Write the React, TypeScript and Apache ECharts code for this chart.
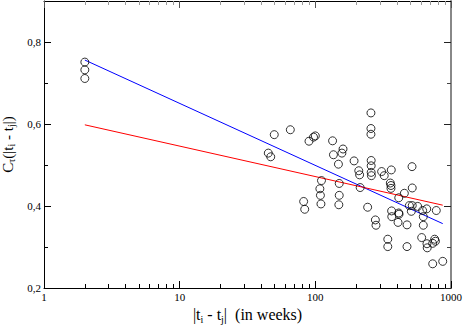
import React, { useEffect, useRef } from "react";
import * as echarts from "echarts";

const weeks = [2, 2, 2, 257, 257, 257, 49.8, 65.4, 97, 100, 89.8, 134, 160, 157, 136, 45, 46.9, 148, 193, 258, 258, 209, 212, 258, 259, 308, 322, 363, 516, 111, 150, 214, 357, 361, 361, 518, 108, 109, 110, 150, 149, 82, 83.5, 243, 412, 453, 493, 518, 568, 510, 365, 366, 412, 414, 407, 474, 277, 280, 618, 662, 779, 625, 625, 608, 665, 668, 733, 758, 768, 342, 342, 474, 733, 869];
const corr = [0.751, 0.732, 0.711, 0.627, 0.589, 0.575, 0.574, 0.586, 0.568, 0.571, 0.558, 0.559, 0.539, 0.529, 0.525, 0.529, 0.52, 0.502, 0.51, 0.511, 0.498, 0.486, 0.476, 0.482, 0.474, 0.484, 0.474, 0.488, 0.496, 0.462, 0.455, 0.445, 0.456, 0.45, 0.443, 0.444, 0.442, 0.426, 0.405, 0.426, 0.403, 0.411, 0.392, 0.397, 0.42, 0.431, 0.401, 0.401, 0.399, 0.387, 0.388, 0.374, 0.383, 0.38, 0.36, 0.354, 0.366, 0.353, 0.389, 0.393, 0.389, 0.374, 0.353, 0.323, 0.308, 0.298, 0.309, 0.319, 0.314, 0.319, 0.301, 0.301, 0.259, 0.265];

const blueFitX = [2, 869];
const blueFitY = [0.756, 0.357];
const redFitX = [2, 869];
const redFitY = [0.598, 0.402];

const xMajorTicks = [1, 10, 100, 1000];
const xMinorTicks = [2, 3, 4, 5, 6, 7, 8, 9, 20, 30, 40, 50, 60, 70, 80, 90, 200, 300, 400, 500, 600, 700, 800, 900];
const yMajorTicks = [0.2, 0.4, 0.6, 0.8];
const yMinorTicks = [0.3, 0.5, 0.7];

const FONT = "'Liberation Serif', 'Times New Roman', serif";

export default function App() {
  const ref = useRef<HTMLDivElement>(null);
  useEffect(() => {
    if (!ref.current) return;
    const chart = echarts.init(ref.current, undefined, { renderer: "svg" });
    const xBase = { type: "log" as const, logBase: 10, min: 1, max: 1000, splitLine: { show: false } };
    const yBase = { type: "value" as const, min: 0.2, max: 0.9, splitLine: { show: false } };
    const richX = {
      a: { fontFamily: FONT, fontSize: 16, color: "#000", lineHeight: 20, verticalAlign: "middle" },
      s: { fontFamily: FONT, fontSize: 10, color: "#000", lineHeight: 10, verticalAlign: "bottom" },
    };
    const richY = {
      a: { fontFamily: FONT, fontSize: 15, color: "#000", lineHeight: 17, verticalAlign: "middle" },
      s: { fontFamily: FONT, fontSize: 10, color: "#000", lineHeight: 9, verticalAlign: "bottom" },
    };
    chart.setOption({
      animation: false,
      backgroundColor: "#fff",
      grid: { left: 44, right: 12, top: 1, bottom: 39, containLabel: false, outerBoundsMode: "none" },
      xAxis: [
        {
          ...xBase,
          position: "bottom",
          axisLine: { show: true, lineStyle: { color: "#000", width: 1 } },
          axisTick: { show: true, inside: true, length: 7, customValues: xMajorTicks, lineStyle: { color: "#000" } },
          axisLabel: {
            show: true,
            customValues: xMajorTicks,
            fontFamily: FONT,
            fontSize: 11,
            color: "#000",
            margin: 3,
            formatter: (v: number) => String(Math.round(v)),
          },
          name: "{a||t}{s|i}{a| - t}{s|j}{a||  (in weeks)}",
          nameLocation: "middle",
          nameGap: 4,
          nameTextStyle: { rich: richX, verticalAlign: "top" },
        },
        {
          ...xBase,
          position: "bottom",
          axisLine: { show: false },
          axisTick: { show: true, inside: true, length: 4, customValues: xMinorTicks, lineStyle: { color: "#000" } },
          axisLabel: { show: false },
        },
        {
          ...xBase,
          position: "top",
          axisLine: { show: true, lineStyle: { color: "#000", width: 1 } },
          axisTick: { show: true, inside: true, length: 7, customValues: xMajorTicks, lineStyle: { color: "#555" } },
          axisLabel: { show: false },
        },
        {
          ...xBase,
          position: "top",
          axisLine: { show: false },
          axisTick: { show: true, inside: true, length: 4, customValues: xMinorTicks, lineStyle: { color: "#999" } },
          axisLabel: { show: false },
        },
      ],
      yAxis: [
        {
          ...yBase,
          position: "left",
          axisLine: { show: true, lineStyle: { color: "#000", width: 1 } },
          axisTick: { show: true, inside: true, length: 7, customValues: yMajorTicks, lineStyle: { color: "#000" } },
          axisLabel: {
            show: true,
            customValues: yMajorTicks,
            fontFamily: FONT,
            fontSize: 11,
            color: "#000",
            margin: 3,
            formatter: (v: number) => v.toFixed(1).replace(".", ","),
          },
          name: "{a|C}{s|τ}{a|(|t}{s|i}{a| - t}{s|j}{a||)}",
          nameLocation: "middle",
          nameGap: 24,
          nameTextStyle: { rich: richY },
        },
        {
          ...yBase,
          position: "left",
          axisLine: { show: false },
          axisTick: { show: true, inside: true, length: 4, customValues: yMinorTicks, lineStyle: { color: "#000" } },
          axisLabel: { show: false },
        },
        {
          ...yBase,
          position: "right",
          axisLine: { show: true, lineStyle: { color: "#888", width: 2 } },
          axisTick: { show: true, inside: true, length: 7, customValues: yMajorTicks, lineStyle: { color: "#222" } },
          axisLabel: { show: false },
        },
        {
          ...yBase,
          position: "right",
          axisLine: { show: false },
          axisTick: { show: true, inside: true, length: 4, customValues: yMinorTicks, lineStyle: { color: "#444" } },
          axisLabel: { show: false },
        },
      ],
      series: [
        {
          type: "scatter",
          xAxisIndex: 0,
          yAxisIndex: 0,
          symbol: "circle",
          symbolSize: 8,
          itemStyle: { color: "rgba(0,0,0,0)", borderColor: "#000", borderWidth: 1 },
          data: weeks.map((w, i) => [w, corr[i]]),
          z: 3,
        },
        {
          type: "line",
          xAxisIndex: 0,
          yAxisIndex: 0,
          showSymbol: false,
          symbol: "none",
          lineStyle: { color: "#0000ff", width: 1 },
          data: blueFitX.map((x, i) => [x, blueFitY[i]]),
          z: 2,
        },
        {
          type: "line",
          xAxisIndex: 0,
          yAxisIndex: 0,
          showSymbol: false,
          symbol: "none",
          lineStyle: { color: "#ff0000", width: 1 },
          data: redFitX.map((x, i) => [x, redFitY[i]]),
          z: 2,
        },
      ],
    });
    return () => chart.dispose();
  }, []);
  return <div ref={ref} style={{ position: "fixed", left: 0, top: 0, width: 463, height: 327 }} />;
}
